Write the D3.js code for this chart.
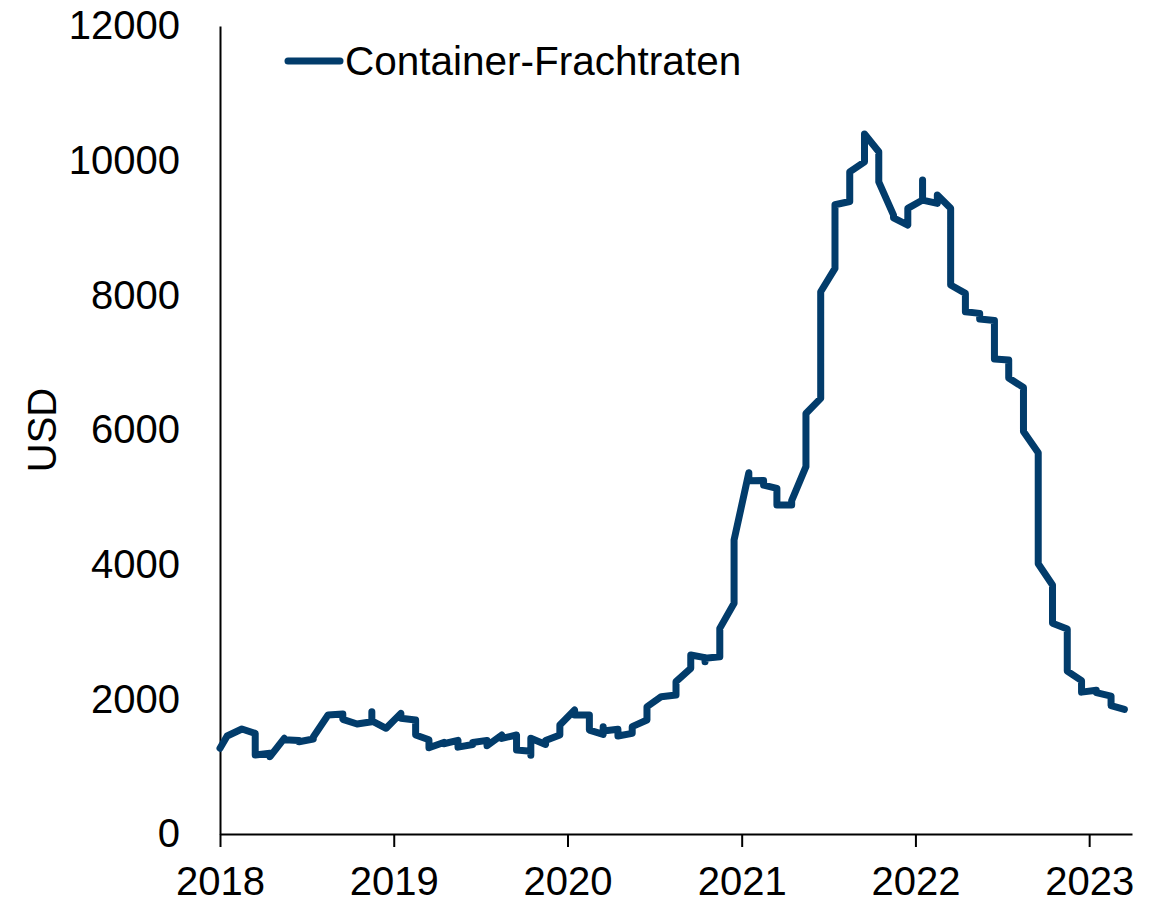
<!DOCTYPE html>
<html>
<head>
<meta charset="utf-8">
<script src="https://cdn.jsdelivr.net/npm/d3@7"></script>
<style>
  html, body { margin: 0; padding: 0; background: #fff; }
  svg { display: block; font-family: "Liberation Sans", Arial, Helvetica, sans-serif; }
</style>
</head>
<body>
<svg id="chart" width="1169" height="905"></svg>
<script>
// ---- Data ----
// Weekly observations grouped by month; all points of one month share an x position.
const dates = [
  "2018-01-01","2018-01-16",
  "2018-02-16",
  "2018-03-16","2018-03-16",
  "2018-04-16","2018-04-16",
  "2018-05-16","2018-05-16",
  "2018-06-16","2018-06-16",
  "2018-07-16","2018-07-16",
  "2018-08-16",
  "2018-09-16","2018-09-16",
  "2018-10-16",
  "2018-11-16","2018-11-16","2018-11-16",
  "2018-12-16",
  "2019-01-16","2019-01-16",
  "2019-02-16","2019-02-16",
  "2019-03-16","2019-03-16",
  "2019-04-16","2019-04-16",
  "2019-05-16","2019-05-16",
  "2019-06-16","2019-06-16",
  "2019-07-16","2019-07-16",
  "2019-08-16","2019-08-16",
  "2019-09-16","2019-09-16",
  "2019-10-16","2019-10-16","2019-10-16",
  "2019-11-16","2019-11-16",
  "2019-12-16","2019-12-16",
  "2020-01-16","2020-01-16",
  "2020-02-16","2020-02-16",
  "2020-03-16","2020-03-16","2020-03-16",
  "2020-04-16","2020-04-16",
  "2020-05-16","2020-05-16",
  "2020-06-16","2020-06-16",
  "2020-07-16",
  "2020-08-16","2020-08-16",
  "2020-09-16","2020-09-16",
  "2020-10-16","2020-10-16","2020-10-16",
  "2020-11-16","2020-11-16",
  "2020-12-16","2020-12-16",
  "2021-01-16","2021-01-16",
  "2021-02-16","2021-02-16",
  "2021-03-16","2021-03-16",
  "2021-04-16","2021-04-16",
  "2021-05-16","2021-05-16","2021-05-16",
  "2021-06-16","2021-06-16",
  "2021-07-16","2021-07-16",
  "2021-08-16","2021-08-16",
  "2021-09-16","2021-09-16",
  "2021-10-16","2021-10-16",
  "2021-11-16","2021-11-16",
  "2021-12-16","2021-12-16",
  "2022-01-16","2022-01-16","2022-01-16",
  "2022-02-16","2022-02-16",
  "2022-03-16","2022-03-16",
  "2022-04-16","2022-04-16",
  "2022-05-16","2022-05-16",
  "2022-06-16","2022-06-16",
  "2022-07-16","2022-07-16",
  "2022-08-16","2022-08-16",
  "2022-09-16","2022-09-16",
  "2022-10-16","2022-10-16",
  "2022-11-16","2022-11-16",
  "2022-12-16","2022-12-16",
  "2023-01-16","2023-01-16",
  "2023-02-16","2023-02-16",
  "2023-03-16"
];
const values = [
  1273, 1455,
  1559,
  1495, 1173,
  1200, 1148,
  1421, 1400,
  1390, 1371,
  1410, 1440,
  1767,
  1782, 1703,
  1634,
  1668, 1816, 1680,
  1570,
  1792, 1720,
  1693, 1470,
  1400, 1280,
  1360, 1340,
  1390, 1290,
  1330, 1360,
  1390, 1310,
  1470, 1420,
  1470, 1247,
  1230, 1170, 1421,
  1330, 1390,
  1470, 1619,
  1841, 1767,
  1767, 1544,
  1480, 1594, 1530,
  1555, 1455,
  1495, 1594,
  1693, 1890,
  2039,
  2064, 2262,
  2460, 2658,
  2620, 2560, 2610,
  2633, 3054,
  3426, 4366,
  5365, 5247,
  5250, 5180,
  5133, 4886,
  4886, 4950,
  5455, 5876, 6246,
  6469, 8053,
  8400, 9345,
  9394, 9834,
  9983, 10395,
  10132, 9686,
  9192, 9150,
  9044, 9292,
  9415, 9712, 9415,
  9365, 9489,
  9292, 8153,
  8029, 7756,
  7732, 7650,
  7625, 7056,
  7039, 6772,
  6631, 5976,
  5662, 4013,
  3699, 3130,
  3046, 2419,
  2277, 2107,
  2135, 2100,
  2049, 1907,
  1850
];
const seriesName = "Container-Frachtraten";
const yTicks = [0, 2000, 4000, 6000, 8000, 10000, 12000];
const xTickYears = [2018, 2019, 2020, 2021, 2022, 2023];
const yAxisTitle = "USD";

(function () {
  // ---- Layout ----
  const svg = d3.select("#chart");
  const mLeft = 220, mRight = 1132, mTop = 26, mBottom = 834;
  const lineColor = "#023c6b";
  const parse = d3.timeParse("%Y-%m-%d");

  const data = dates.map((d, i) => ({ date: parse(d), value: values[i] }));

  const x = d3.scaleTime()
    .domain([new Date(2018, 0, 1), new Date(2023, 3, 1)])
    .range([mLeft, mRight]);
  const y = d3.scaleLinear().domain([0, 12000]).range([mBottom, mTop]);

  // Y axis: line only, labels on the left
  const yAxis = d3.axisLeft(y).tickValues(yTicks).tickSize(0).tickPadding(40).tickFormat(d3.format("d"));
  const gy = svg.append("g").attr("transform", `translate(${mLeft},0)`).call(yAxis);
  gy.select(".domain").attr("stroke", "#000").attr("stroke-width", 2);
  gy.selectAll("text")
    .attr("font-size", 40)
    .attr("fill", "#000")
    .attr("font-family", "Liberation Sans, Arial, sans-serif")
    .attr("dy", "0.32em");

  // X axis
  const xAxis = d3.axisBottom(x)
    .tickValues(xTickYears.map(yr => new Date(yr, 0, 1)))
    .tickSize(13)
    .tickSizeOuter(0)
    .tickPadding(20)
    .tickFormat(d3.timeFormat("%Y"));
  const gx = svg.append("g").attr("transform", `translate(0,${mBottom})`).call(xAxis);
  gx.select(".domain").attr("stroke", "#000").attr("stroke-width", 2);
  gx.selectAll(".tick line").attr("stroke", "#000").attr("stroke-width", 2);
  gx.selectAll("text")
    .attr("font-size", 40)
    .attr("fill", "#000")
    .attr("font-family", "Liberation Sans, Arial, sans-serif");

  // Y axis title
  svg.append("text")
    .attr("transform", `translate(56,${(mTop + mBottom) / 2}) rotate(-90)`)
    .attr("text-anchor", "middle")
    .attr("font-size", 40)
    .attr("fill", "#000")
    .text(yAxisTitle);

  // Series line
  const line = d3.line().x(d => x(d.date)).y(d => y(d.value));
  svg.append("path")
    .datum(data)
    .attr("fill", "none")
    .attr("stroke", lineColor)
    .attr("stroke-width", 7)
    .attr("stroke-linejoin", "round")
    .attr("stroke-linecap", "round")
    .attr("d", line);

  // Legend
  const lg = svg.append("g");
  lg.append("line")
    .attr("x1", 288).attr("x2", 340).attr("y1", 61).attr("y2", 61)
    .attr("stroke", lineColor).attr("stroke-width", 7).attr("stroke-linecap", "round");
  lg.append("text")
    .attr("x", 345).attr("y", 75)
    .attr("font-size", 40.5)
    .attr("fill", "#000")
    .text(seriesName);
})();
</script>
</body>
</html>
